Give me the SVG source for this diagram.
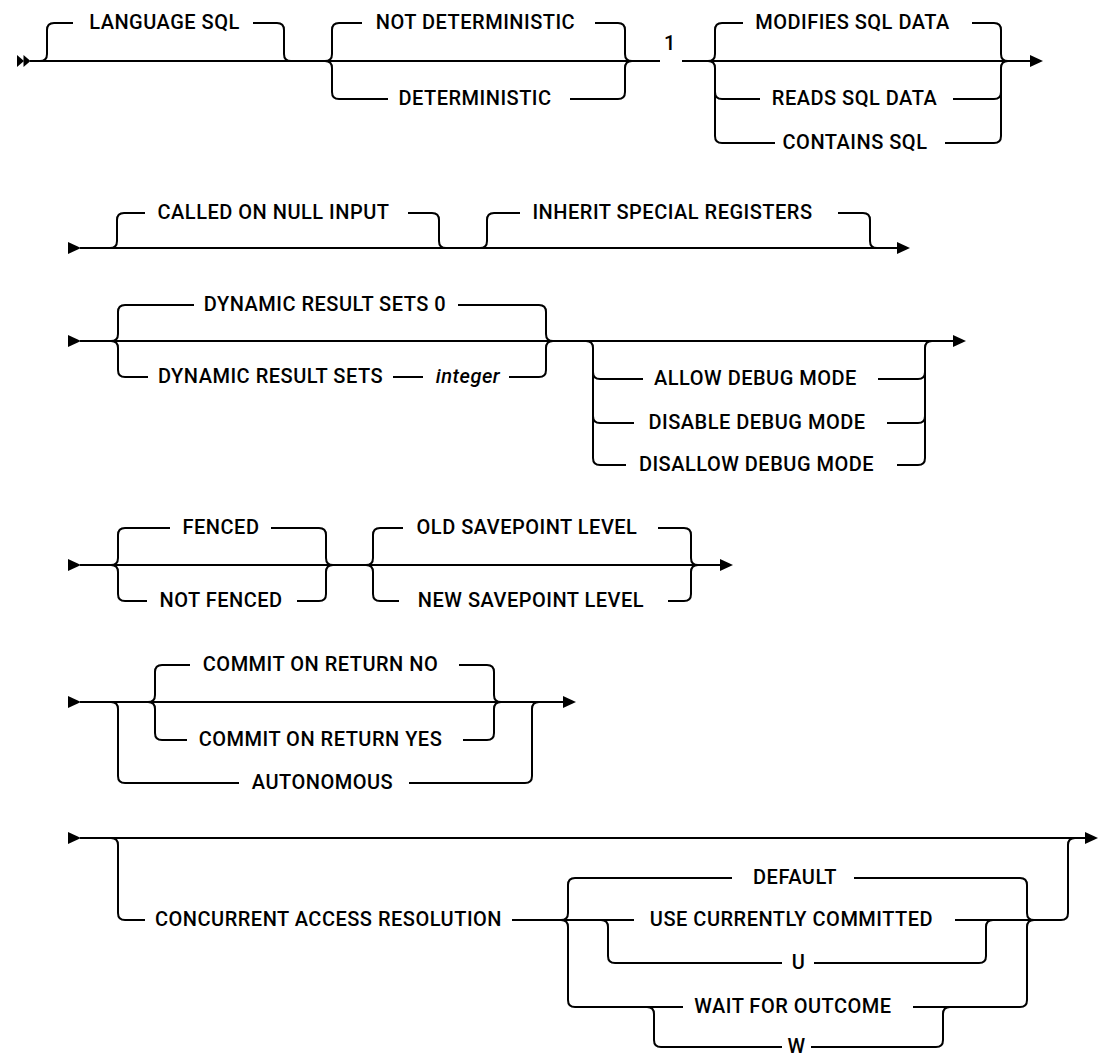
<svg xmlns="http://www.w3.org/2000/svg" xmlns:xlink="http://www.w3.org/1999/xlink" width="1099" height="1057" viewBox="0 0 1099 1057">
<style>
.l{fill:none;stroke:#000;stroke-width:2;stroke-linecap:butt}
.a{fill:#000;stroke:none}
.t{font-family:Roboto,"Liberation Sans",sans-serif;font-size:20px;font-weight:500;letter-spacing:0.5px;fill:#000;text-anchor:middle}
.i{font-style:italic}
</style>
<defs>
<path id="arr" class="a" d="M0,-6 L13,0 L0,6 Z"/>
<path id="sarr" class="a" d="M0,-6 L7,0 L0,6 Z"/>
</defs>
<rect width="1099" height="1057" fill="#fff"/>
<g id="connectors">
<!-- Row 1 -->
<use xlink:href="#sarr" x="17" y="61"/>
<use xlink:href="#sarr" x="23.5" y="61"/>
<path class="l" d="M30,61 H660 M682,61 H1030"/>
<path class="l" d="M40,61 Q47,61 47,54 V30 Q47,23 54,23 H73 M253,23 H277 Q284,23 284,30 V54 Q284,61 291,61"/>
<path class="l" d="M325,61 Q332,61 332,54 V30 Q332,23 339,23 H362 M595,23 H618 Q625,23 625,30 V54 Q625,61 632,61"/>
<path class="l" d="M325,61 Q332,61 332,68 V92 Q332,99 339,99 H388 M570,99 H618 Q625,99 625,92 V68 Q625,61 632,61"/>
<path class="l" d="M708,61 Q715,61 715,54 V30 Q715,23 722,23 H743 M972,23 H994 Q1001,23 1001,30 V54 Q1001,61 1008,61"/>
<path class="l" d="M708,61 Q715,61 715,68 V136 Q715,143 722,143 H775 M945,143 H994 Q1001,143 1001,136 V68 Q1001,61 1008,61"/>
<path class="l" d="M715,92 Q715,99 722,99 H760 M953,99 H994 Q1001,99 1001,92"/>
<use xlink:href="#arr" x="1030" y="61"/>
<!-- Row 2 -->
<use xlink:href="#arr" x="68" y="248"/>
<path class="l" d="M80,248 H897"/>
<path class="l" d="M110,248 Q117,248 117,241 V220 Q117,213 124,213 H145 M408,213 H432 Q439,213 439,220 V241 Q439,248 446,248"/>
<path class="l" d="M480,248 Q487,248 487,241 V220 Q487,213 494,213 H520 M838,213 H863 Q870,213 870,220 V241 Q870,248 877,248"/>
<use xlink:href="#arr" x="897" y="248"/>
<!-- Row 3 -->
<use xlink:href="#arr" x="68" y="341"/>
<path class="l" d="M80,341 H953"/>
<path class="l" d="M111,341 Q118,341 118,334 V312 Q118,305 125,305 H194 M458,305 H539 Q546,305 546,312 V334 Q546,341 553,341"/>
<path class="l" d="M111,341 Q118,341 118,348 V370 Q118,377 125,377 H148 M393,377 H423 M509,377 H539 Q546,377 546,370 V348 Q546,341 553,341"/>
<path class="l" d="M586,341 Q593,341 593,348 V458 Q593,465 600,465 H626 M593,372 Q593,379 600,379 H643 M593,416 Q593,423 600,423 H634"/>
<path class="l" d="M878,379 H918 Q925,379 925,372 M887,423 H918 Q925,423 925,416 M897,465 H918 Q925,465 925,458 V348 Q925,341 932,341"/>
<use xlink:href="#arr" x="953" y="341"/>
<!-- Row 4 -->
<use xlink:href="#arr" x="68" y="565"/>
<path class="l" d="M80,565 H720"/>
<path class="l" d="M111,565 Q118,565 118,558 V535 Q118,528 125,528 H170 M271,528 H319 Q326,528 326,535 V558 Q326,565 333,565"/>
<path class="l" d="M111,565 Q118,565 118,572 V594 Q118,601 125,601 H147 M297,601 H319 Q326,601 326,594 V572 Q326,565 333,565"/>
<path class="l" d="M366,565 Q373,565 373,558 V535 Q373,528 380,528 H403 M658,528 H684 Q691,528 691,535 V558 Q691,565 698,565"/>
<path class="l" d="M366,565 Q373,565 373,572 V594 Q373,601 380,601 H399 M668,601 H684 Q691,601 691,594 V572 Q691,565 698,565"/>
<use xlink:href="#arr" x="720" y="565"/>
<!-- Row 5 -->
<use xlink:href="#arr" x="68" y="702"/>
<path class="l" d="M80,702 H563"/>
<path class="l" d="M111,702 Q118,702 118,709 V776 Q118,783 125,783 H239 M409,783 H525 Q532,783 532,776 V709 Q532,702 539,702"/>
<path class="l" d="M148,702 Q155,702 155,695 V672 Q155,665 162,665 H190 M459,665 H487 Q494,665 494,672 V695 Q494,702 501,702"/>
<path class="l" d="M148,702 Q155,702 155,709 V733 Q155,740 162,740 H187 M463,740 H487 Q494,740 494,733 V709 Q494,702 501,702"/>
<use xlink:href="#arr" x="563" y="702"/>
<!-- Row 6 -->
<use xlink:href="#arr" x="68" y="838"/>
<path class="l" d="M80,838 H1085"/>
<path class="l" d="M111,838 Q118,838 118,845 V913 Q118,920 125,920 H145 M512,920 H634 M955,920 H1061 Q1068,920 1068,913 V845 Q1068,838 1075,838"/>
<path class="l" d="M561,920 Q568,920 568,913 V885 Q568,878 575,878 H732 M854,878 H1020 Q1027,878 1027,885 V913 Q1027,920 1034,920"/>
<path class="l" d="M561,920 Q568,920 568,927 V1000 Q568,1007 575,1007 H683 M913,1007 H1020 Q1027,1007 1027,1000 V927 Q1027,920 1034,920"/>
<path class="l" d="M601,920 Q608,920 608,927 V956 Q608,963 615,963 H782 M814,963 H979 Q986,963 986,956 V927 Q986,920 993,920"/>
<path class="l" d="M647,1007 Q654,1007 654,1014 V1040 Q654,1047 661,1047 H782 M811,1047 H936 Q943,1047 943,1040 V1014 Q943,1007 950,1007"/>
<use xlink:href="#arr" x="1085" y="838"/>
</g>
<g id="n-language-sql"><text class="t" x="164.5" y="29">LANGUAGE SQL</text></g>
<g id="n-not-deterministic"><text class="t" x="475.5" y="29">NOT DETERMINISTIC</text></g>
<g id="n-deterministic"><text class="t" x="475" y="105">DETERMINISTIC</text></g>
<g id="n-note-1"><text class="t" x="670" y="50">1</text></g>
<g id="n-modifies-sql-data"><text class="t" x="852.5" y="29">MODIFIES SQL DATA</text></g>
<g id="n-reads-sql-data"><text class="t" x="854.5" y="105">READS SQL DATA</text></g>
<g id="n-contains-sql"><text class="t" x="855" y="149">CONTAINS SQL</text></g>
<g id="n-called-on-null-input"><text class="t" x="273.5" y="219">CALLED ON NULL INPUT</text></g>
<g id="n-inherit-special-registers"><text class="t" x="672.5" y="219">INHERIT SPECIAL REGISTERS</text></g>
<g id="n-dynamic-result-sets-0"><text class="t" x="325" y="311">DYNAMIC RESULT SETS 0</text></g>
<g id="n-dynamic-result-sets"><text class="t" x="270.5" y="383">DYNAMIC RESULT SETS</text></g>
<g id="n-integer"><text class="t i" x="468" y="383">integer</text></g>
<g id="n-allow-debug-mode"><text class="t" x="755.5" y="385">ALLOW DEBUG MODE</text></g>
<g id="n-disable-debug-mode"><text class="t" x="757" y="429">DISABLE DEBUG MODE</text></g>
<g id="n-disallow-debug-mode"><text class="t" x="756.5" y="471">DISALLOW DEBUG MODE</text></g>
<g id="n-fenced"><text class="t" x="221" y="534">FENCED</text></g>
<g id="n-not-fenced"><text class="t" x="221" y="607">NOT FENCED</text></g>
<g id="n-old-savepoint-level"><text class="t" x="527" y="534">OLD SAVEPOINT LEVEL</text></g>
<g id="n-new-savepoint-level"><text class="t" x="531" y="607">NEW SAVEPOINT LEVEL</text></g>
<g id="n-commit-on-return-no"><text class="t" x="320.5" y="671">COMMIT ON RETURN NO</text></g>
<g id="n-commit-on-return-yes"><text class="t" x="320.5" y="746">COMMIT ON RETURN YES</text></g>
<g id="n-autonomous"><text class="t" x="322.5" y="789">AUTONOMOUS</text></g>
<g id="n-concurrent-access-resolution"><text class="t" x="328.5" y="926">CONCURRENT ACCESS RESOLUTION</text></g>
<g id="n-default"><text class="t" x="795" y="884">DEFAULT</text></g>
<g id="n-use-currently-committed"><text class="t" x="791.5" y="926">USE CURRENTLY COMMITTED</text></g>
<g id="n-u"><text class="t" x="798.5" y="969">U</text></g>
<g id="n-wait-for-outcome"><text class="t" x="793" y="1013">WAIT FOR OUTCOME</text></g>
<g id="n-w"><text class="t" x="796.5" y="1053">W</text></g>
</svg>
